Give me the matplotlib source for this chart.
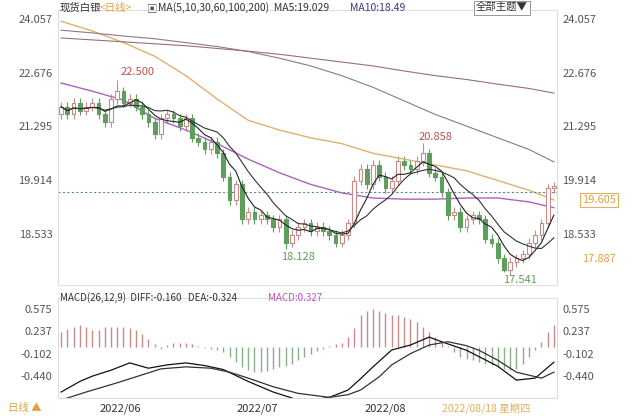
import matplotlib
matplotlib.use("Agg")
import matplotlib.pyplot as plt
import numpy as np
import pandas as pd

plt.rcParams['font.family'] = ['Noto Sans CJK SC', 'DejaVu Sans']

closes = [21.8,21.6,21.9,21.7,21.8,21.9,21.6,21.4,22.0,22.2,21.9,22.0,21.8,21.6,21.4,21.1,21.5,21.6,21.5,21.3,
          21.5,21.0,20.9,20.7,20.9,20.6,20.0,19.4,19.8,18.9,19.1,18.9,19.0,18.9,18.7,18.9,18.3,18.5,18.7,18.8,
          18.6,18.7,18.6,18.5,18.3,18.5,18.8,19.9,20.2,19.8,20.3,20.0,19.7,19.9,20.4,20.3,20.2,20.4,20.6,20.1,
          20.0,19.6,19.0,19.1,18.7,18.9,19.0,18.9,18.4,18.3,17.9,17.6,17.8,17.9,18.0,18.3,18.5,18.8,19.7,19.75]
first_open = 21.6
extremes = {9: ('high', 22.500), 36: ('low', 18.128), 58: ('high', 20.858), 71: ('low', 17.541)}

# long moving averages read at sample candles
ma_idx = [0, 5, 10, 15, 20, 25, 30, 35, 40, 45, 50, 55, 60, 65, 70, 75, 79]
ma30 = [22.41, 22.2, 21.97, 21.5, 21.2, 20.85, 20.45, 20.1, 19.8, 19.58, 19.45, 19.42, 19.42, 19.45, 19.45, 19.35, 19.2]
ma60 = [24.0, 23.75, 23.45, 23.1, 22.6, 22.0, 21.45, 21.2, 21.0, 20.85, 20.6, 20.45, 20.3, 20.15, 19.9, 19.65, 19.4]
ma100 = [23.77, 23.7, 23.62, 23.55, 23.45, 23.35, 23.22, 23.05, 22.85, 22.6, 22.3, 21.95, 21.6, 21.3, 21.0, 20.7, 20.38]
ma200 = [23.57, 23.52, 23.47, 23.42, 23.37, 23.3, 23.23, 23.15, 23.05, 22.95, 22.85, 22.72, 22.6, 22.5, 22.38, 22.27, 22.15]

hist = [0.22,0.27,0.30,0.33,0.30,0.25,0.26,0.30,0.30,0.30,0.30,0.28,0.25,0.20,0.12,0.05,
        -0.03,0.03,0.06,0.06,0.06,0.05,0.02,-0.02,-0.03,-0.05,-0.08,-0.15,-0.22,
        -0.30,-0.35,-0.37,-0.38,-0.36,-0.33,-0.30,-0.28,-0.25,-0.20,-0.15,-0.10,-0.06,-0.03,0.02,0.04,
        0.06,0.15,0.28,0.48,0.55,0.57,0.55,0.52,0.48,0.48,0.45,0.42,0.38,0.30,0.22,0.15,
        0.08,0.02,-0.08,-0.15,-0.18,-0.20,-0.22,-0.25,-0.27,-0.30,-0.33,-0.35,-0.33,-0.25,
        -0.15,-0.05,0.08,0.22,0.327]
diff_idx = [0,3,5,8,11,14,17,20,23,26,30,34,38,41,43,46,48,50,53,56,59,61,65,70,73,76,79]
diff_v = [-0.68,-0.52,-0.44,-0.35,-0.24,-0.32,-0.27,-0.24,-0.28,-0.34,-0.52,-0.68,-0.80,-0.79,-0.76,-0.65,-0.48,-0.30,-0.045,0.03,0.15,0.08,-0.05,-0.29,-0.50,-0.47,-0.23]
dea_idx = [0,4,9,13,16,20,24,27,30,34,38,43,46,48,51,53,56,59,62,65,67,70,73,77,79]
dea_v = [-0.80,-0.68,-0.54,-0.42,-0.33,-0.30,-0.32,-0.38,-0.47,-0.60,-0.70,-0.76,-0.72,-0.65,-0.45,-0.27,-0.10,0.03,0.08,0.02,-0.05,-0.20,-0.38,-0.47,-0.38]

yt_main = [24.057, 22.676, 21.295, 19.914, 18.533]
yt_macd = [0.575, 0.237, -0.102, -0.440]
month_idx = [9.5, 31.5, 52]
month_lbl = ['2022/06', '2022/07', '2022/08']

W, H = 640, 416
fig = plt.figure(figsize=(W/100, H/100), dpi=100)
fig.patch.set_facecolor('white')
def axr(x0, y0, x1, y1):
    return fig.add_axes([x0/W, 1-y1/H, (x1-x0)/W, (y1-y0)/H])

ax = axr(58, 10, 557, 285)
n = len(closes)
opens = [first_open] + closes[:-1]
up_c, dn_c = '#c98a8a', '#5e9e5e'
for i in range(n):
    o, c = opens[i], closes[i]
    hi = max(o, c) + 0.12
    lo = min(o, c) - 0.12
    if i in extremes:
        k, v = extremes[i]
        if k == 'high': hi = v
        else: lo = v
    up = c >= o
    col = up_c if up else dn_c
    ax.vlines(i, lo, hi, color=col, lw=0.8, zorder=2)
    b = max(abs(c-o), 0.03)
    ax.add_patch(plt.Rectangle((i-0.3, min(o, c)), 0.6, b, facecolor='white' if up else dn_c,
                               edgecolor=col, lw=0.8, zorder=3))
s = pd.Series(closes)
ax.plot(range(n), s.rolling(5, min_periods=1).mean(), color='#222222', lw=0.8, zorder=4)
ax.plot(range(n), s.rolling(10, min_periods=1).mean(), color='#333333', lw=0.8, zorder=4)
ax.plot(ma_idx, ma30, color='#b060c0', lw=1.0)
ax.plot(ma_idx, ma60, color='#e0b070', lw=1.0)
ax.plot(ma_idx, ma100, color='#8a7a8a', lw=0.8)
ax.plot(ma_idx, ma200, color='#9a7070', lw=0.8)
ax.axhline(19.605, color='#5a8a9a', ls=(0, (2, 2)), lw=0.8)
ax.set_xlim(-0.5, 79.5)
ax.set_ylim(17.21, 24.29)
ax.set_yticks(yt_main)
ax.set_yticklabels([f'{v:.3f}' for v in yt_main])
ax.tick_params(axis='y', length=0, labelsize=8, colors='#555555', labelright=True, pad=4)
ax.tick_params(axis='x', length=0, labelbottom=False)
for sp in ax.spines.values():
    sp.set_color('#dddddd')
ax.text(9.5, 22.62, '22.500', color='#c05050', fontsize=8, ha='left')
ax.text(38, 17.85, '18.128', color='#5e9e5e', fontsize=8, ha='center')
ax.text(60, 20.95, '20.858', color='#c05050', fontsize=8, ha='center')
ax.text(73.5, 17.25, '17.541', color='#5e9e5e', fontsize=8, ha='center')
ax.text(1.05, (19.4-17.21)/(24.29-17.21), '19.605', transform=ax.transAxes, color='#e0a040', fontsize=8,
        va='center', bbox=dict(boxstyle='square,pad=0.2', fc='white', ec='#e0b060', lw=0.8))
ax.text(1.05, (17.887-17.21)/(24.29-17.21), '17.887', transform=ax.transAxes, color='#e0a040', fontsize=8, va='center')

bx = axr(58, 298, 557, 398)
xs = np.arange(len(hist))
bx.vlines(xs, 0, hist, colors=[up_c if h > 0 else '#8ab08a' for h in hist], lw=1.0)
bx.plot(diff_idx, diff_v, color='#111111', lw=0.9)
bx.plot(dea_idx, dea_v, color='#333333', lw=0.9)
bx.set_xlim(-0.5, 79.5)
bx.set_ylim(-0.77, 0.74)
bx.set_yticks(yt_macd)
bx.set_yticklabels([f'{v:.3f}' for v in yt_macd])
bx.tick_params(axis='y', length=0, labelsize=8, colors='#555555', labelright=True, pad=4)
bx.set_xticks(month_idx)
bx.set_xticklabels(month_lbl)
bx.tick_params(axis='x', length=0, labelsize=8, colors='#333333', pad=4)
for sp in bx.spines.values():
    sp.set_color('#dddddd')

fig.text(60/W, 1-8/H, '现货白银', fontsize=7.5, color='#333333', va='center')
fig.text(100/W, 1-8/H, '<日线>', fontsize=7.5, color='#e0a040', va='center')
fig.text(147/W, 1-8/H, '▣', fontsize=7.5, color='#555555', va='center')
fig.text(158/W, 1-8/H, 'MA(5,10,30,60,100,200)  MA5:19.029', fontsize=7.5, color='#333333', va='center')
fig.text(350/W, 1-8/H, 'MA10:18.49', fontsize=7.5, color='#3a3a8a', va='center')
fig.text(502/W, 1-8/H, '全部主题▼', fontsize=7.5, color='#333333', va='center', ha='center',
         bbox=dict(boxstyle='square,pad=0.2', fc='white', ec='#888888', lw=0.6))
fig.text(60/W, 1-298/H, 'MACD(26,12,9)  DIFF:-0.160   DEA:-0.324', fontsize=7, color='#333333', va='center')
fig.text(268/W, 1-298/H, 'MACD:0.327', fontsize=7, color='#c050c0', va='center')
fig.text(8/W, 1-408/H, '日线 ▲', fontsize=7.5, color='#e0a040', va='center')
fig.text(442/W, 1-408/H, '2022/08/18 星期四', fontsize=7.5, color='#e0b060', va='center')
fig.savefig('out.png', dpi=100)
